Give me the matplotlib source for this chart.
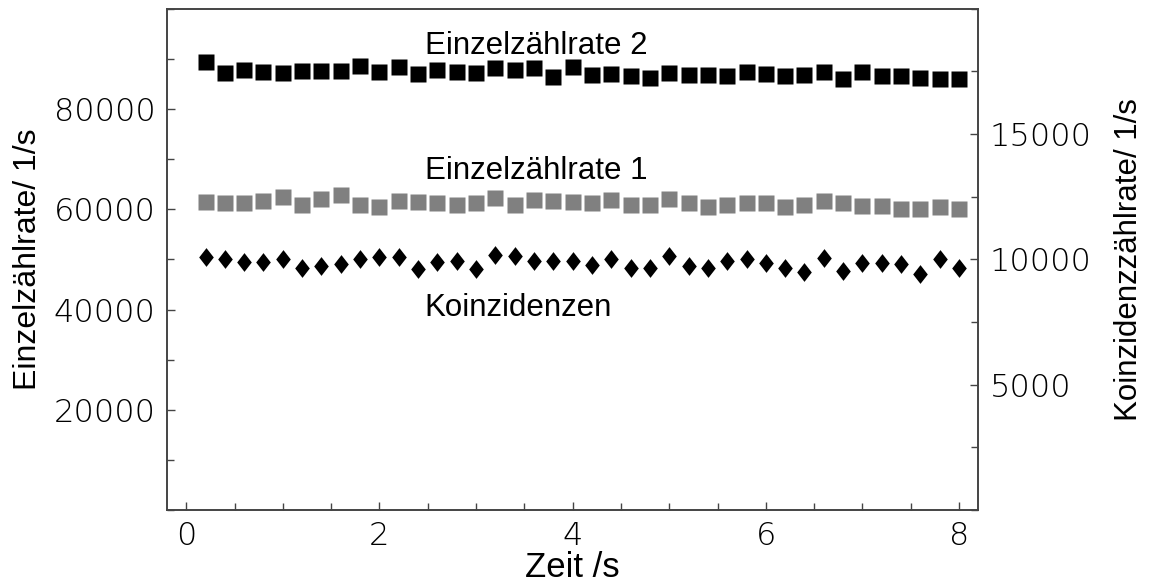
import numpy as np
import matplotlib
matplotlib.use("Agg")
import matplotlib.pyplot as plt
from matplotlib.path import Path
from matplotlib.ticker import MultipleLocator, FixedLocator

# Messzeitpunkte (s)
zeit = [round(0.2 * i, 1) for i in range(1, 41)]

# Einzelzählrate Detektor 2 (1/s)
rate2 = [89340, 87260, 87730, 87460, 87200, 87600, 87600, 87600, 88670, 87460,
         88400, 86930, 87870, 87460, 87200, 88130, 87730, 88130, 86400, 88400,
         86800, 86930, 86670, 86270, 87200, 86800, 86800, 86530, 87330, 86930,
         86670, 86800, 87470, 86000, 87470, 86670, 86530, 86130, 85900, 85900]

# Einzelzählrate Detektor 1 (1/s)
rate1 = [61460, 61330, 61330, 61730, 62400, 60800, 62130, 62930, 60800, 60530,
         61730, 61460, 61330, 60930, 61330, 62270, 60800, 61870, 61730, 61530,
         61330, 61870, 60800, 60930, 62130, 61200, 60400, 60930, 61330, 61200,
         60400, 60800, 61600, 61330, 60670, 60670, 60130, 60130, 60530, 60130]

# Koinzidenzzählrate (1/s)
koinz = [10107, 10000, 9893, 9893, 10027, 9667, 9733, 9800, 10000, 10107,
         10107, 9627, 9893, 9933, 9600, 10160, 10133, 9920, 9920, 9950,
         9760, 10027, 9667, 9667, 10133, 9733, 9667, 9933, 10027, 9867,
         9667, 9493, 10067, 9533, 9867, 9867, 9800, 9400, 10027, 9667]

label_rate2 = "Einzelzählrate 2"
label_rate1 = "Einzelzählrate 1"
label_koinz = "Koinzidenzen"

text_font = ["Liberation Sans", "DejaVu Sans"]
tick_font = ["DejaVu Sans"]

fig = plt.figure(figsize=(11.51, 5.85), dpi=100)
ax = fig.add_axes([0.145, 0.128, 0.705, 0.857])
ax2 = ax.twinx()

# Raute für die Koinzidenzen (etwas höher als breit)
raute = Path([(0, 1), (0.78, 0), (0, -1), (-0.78, 0), (0, 1)],
             [Path.MOVETO, Path.LINETO, Path.LINETO, Path.LINETO, Path.CLOSEPOLY])

ax.plot(zeit, rate2, ls="none", marker="s", ms=11, color="black", mec="none")
ax.plot(zeit, rate1, ls="none", marker="s", ms=11, color="#808080", mec="none")
ax2.plot(zeit, koinz, ls="none", marker=raute, ms=13.5, color="black", mec="none")

ax.set_xlim(-0.2, 8.2)
ax.set_ylim(0, 100000)
ax2.set_ylim(0, 20000)

ax.xaxis.set_major_locator(FixedLocator([0, 2, 4, 6, 8]))
ax.xaxis.set_minor_locator(MultipleLocator(0.5))
ax.yaxis.set_major_locator(FixedLocator([20000, 40000, 60000, 80000]))
ax.yaxis.set_minor_locator(MultipleLocator(10000))
ax2.yaxis.set_major_locator(FixedLocator([5000, 10000, 15000]))
ax2.yaxis.set_minor_locator(MultipleLocator(2500))

for a in (ax, ax2):
    for s in a.spines.values():
        s.set_color("#444444")
        s.set_linewidth(1.2)
    a.tick_params(which="both", direction="in", color="#444444", width=1.0)
    a.tick_params(which="major", length=6, pad=8)
    a.tick_params(which="minor", length=5)

ax.tick_params(axis="x", which="both", top=False)
ax.tick_params(axis="y", which="both", right=False)
ax2.tick_params(axis="y", which="both", left=False)

for lbl in ax.get_xticklabels() + ax.get_yticklabels() + ax2.get_yticklabels():
    lbl.set_fontfamily(tick_font)
    lbl.set_fontsize(23)
    lbl.set_fontweight("light")

ax.set_xlabel("Zeit /s", fontsize=25, family=text_font, labelpad=0)
ax.set_ylabel("Einzelzählrate/ 1/s", fontsize=23, family=text_font, labelpad=8)
ax2.set_ylabel("Koinzidenzzählrate/ 1/s", fontsize=22.5, family=text_font, labelpad=16)

ax.text(2.47, 92600, label_rate2, fontsize=22.5, family=text_font, va="center", ha="left")
ax.text(2.47, 67600, label_rate1, fontsize=22.5, family=text_font, va="center", ha="left")
ax.text(2.47, 40400, label_koinz, fontsize=22.5, family=text_font, va="center", ha="left")

fig.savefig("out.png", dpi=100)
